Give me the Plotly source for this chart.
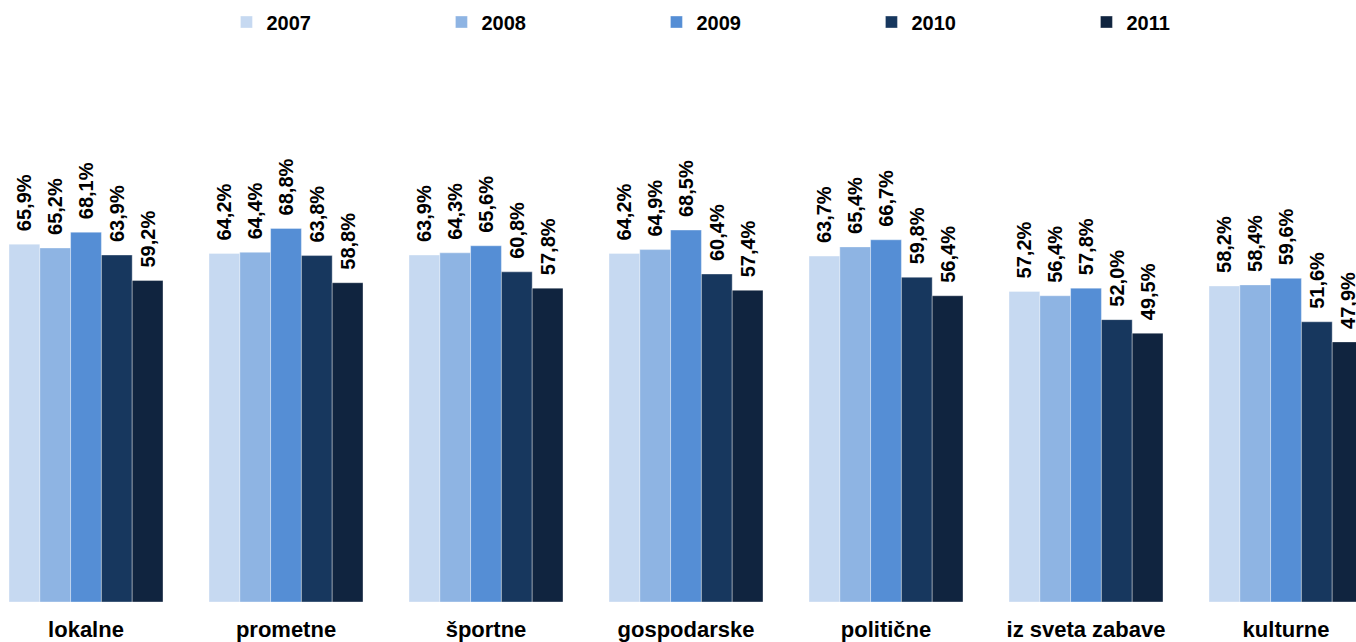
import plotly.graph_objects as go

categories = ["lokalne", "prometne", "športne", "gospodarske", "politične", "iz sveta zabave", "kulturne"]
years = ["2007", "2008", "2009", "2010", "2011"]
v2007 = [65.9, 64.2, 63.9, 64.2, 63.7, 57.2, 58.2]
v2008 = [65.2, 64.4, 64.3, 64.9, 65.4, 56.4, 58.4]
v2009 = [68.1, 68.8, 65.6, 68.5, 66.7, 57.8, 59.6]
v2010 = [63.9, 63.8, 60.8, 60.4, 59.8, 52.0, 51.6]
v2011 = [59.2, 58.8, 57.8, 57.4, 56.4, 49.5, 47.9]
series = [v2007, v2008, v2009, v2010, v2011]
colors = ["#C6D9F1", "#8EB4E3", "#558ED5", "#17375E", "#10243F"]

font = "Liberation Sans, Arial, sans-serif"
fig = go.Figure()
for y, vals, c in zip(years, series, colors):
    fig.add_trace(go.Bar(
        name=y, x=categories, y=vals,
        marker=dict(color=c, line=dict(color="rgba(255,255,255,0.6)", width=0.6)),
        text=["\u2002" + ("%.1f%%" % v).replace(".", ",") for v in vals],
        textposition="outside", textangle=-90, cliponaxis=False, constraintext="none",
        textfont=dict(family=font, size=20, color="black", weight="bold"),
    ))

fig.update_layout(
    width=1356, height=642,
    margin=dict(l=0, r=0, t=59, b=40, autoexpand=False),
    barmode="group", bargap=0.23, bargroupgap=0,
    plot_bgcolor="white", paper_bgcolor="white",
    legend=dict(orientation="h", x=0.167, xanchor="left", y=0.9657, yanchor="middle",
                yref="container", entrywidth=170, itemwidth=30,
                font=dict(family=font, size=20, color="black", weight="bold")),
    xaxis=dict(range=[-0.43, 6.35], showline=False, ticks="", showgrid=False,
               ticklabelstandoff=12,
               tickfont=dict(family=font, size=22, color="black", weight="bold")),
    yaxis=dict(range=[0, 100], visible=False, showgrid=False),
)
fig.write_html("out.html", config={"displayModeBar": False},
               post_script="document.body.style.margin='0';document.body.style.overflow='hidden';")
